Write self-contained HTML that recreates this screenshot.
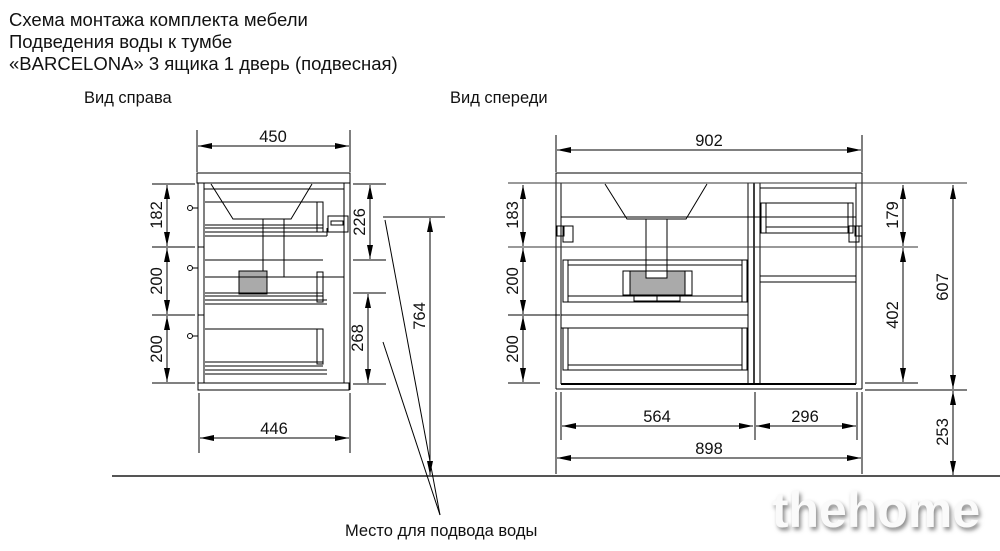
<!DOCTYPE html>
<html><head><meta charset="utf-8"><style>
html,body{margin:0;padding:0;background:#fff;}
svg{display:block;}
text{font-family:"Liberation Sans",sans-serif;fill:#111;}
</style></head><body>
<svg width="1000" height="551" viewBox="0 0 1000 551" xmlns="http://www.w3.org/2000/svg">
<defs>
<marker id="a" viewBox="0 0 14 6" refX="14" refY="3" markerWidth="14" markerHeight="6" orient="auto-start-reverse" markerUnits="userSpaceOnUse"><path d="M0,0L14,3L0,6z" fill="#000"/></marker>
<filter id="sh"><feGaussianBlur stdDeviation="2"/></filter>
</defs>
<text x="9" y="26" font-size="18.5">Схема монтажа комплекта мебели</text>
<text x="9" y="48" font-size="18.5">Подведения воды к тумбе</text>
<text x="9" y="70" font-size="18.5">«BARCELONA» 3 ящика 1 дверь (подвесная)</text>
<text x="84" y="103" font-size="16.5">Вид справа</text>
<text x="450" y="103" font-size="16.5">Вид спереди</text>

<g stroke="#000" stroke-width="1" fill="none">
<line x1="112" y1="476" x2="1000" y2="476" stroke="#555" stroke-width="2"/>

<rect x="197" y="173" width="153" height="10"/>
<rect x="198" y="383" width="151" height="7"/>
<line x1="198" y1="183" x2="198" y2="383"/><line x1="204" y1="183" x2="204" y2="383"/>
<line x1="198" y1="247" x2="204" y2="247"/><line x1="198" y1="315" x2="204" y2="315"/>
<line x1="344" y1="183" x2="344" y2="383"/><line x1="350" y1="183" x2="350" y2="390"/>
<line x1="204" y1="189" x2="344" y2="189"/>
<circle cx="190" cy="208" r="2.5"/><line x1="192" y1="208" x2="198" y2="208"/>
<circle cx="190" cy="268" r="2.5"/><line x1="192" y1="268" x2="198" y2="268"/>
<circle cx="190" cy="336" r="2.5"/><line x1="192" y1="336" x2="198" y2="336"/>
<polyline points="211,184 233,219 291,219 312,184"/>
<line x1="263" y1="219" x2="263" y2="271"/><line x1="284" y1="219" x2="284" y2="277"/>
<line x1="267" y1="277" x2="284" y2="277"/>
<rect x="239" y="271" width="28" height="23" fill="#aaa"/>
<line x1="205" y1="202" x2="323" y2="202"/><rect x="317" y="202" width="6" height="30"/>
<line x1="205" y1="225" x2="323" y2="225"/><line x1="205" y1="228" x2="323" y2="228"/><line x1="205" y1="232" x2="327" y2="232"/><line x1="205" y1="236" x2="327" y2="236"/><line x1="327" y1="228" x2="327" y2="236"/>
<line x1="205" y1="260" x2="323" y2="260"/><line x1="205" y1="277" x2="344" y2="277"/><rect x="317" y="272" width="6" height="30"/>
<line x1="205" y1="293" x2="323" y2="293"/><line x1="205" y1="296" x2="323" y2="296"/><line x1="205" y1="300" x2="327" y2="300"/><line x1="205" y1="304" x2="327" y2="304"/>
<line x1="205" y1="329" x2="323" y2="329"/><rect x="317" y="329" width="6" height="35"/>
<line x1="205" y1="362" x2="323" y2="362"/><line x1="205" y1="366" x2="323" y2="366"/><line x1="205" y1="370" x2="327" y2="370"/><line x1="205" y1="374" x2="327" y2="374"/>
<rect x="328" y="216" width="20" height="16"/><rect x="331" y="221" width="12" height="4"/>
<line x1="197" y1="130" x2="197" y2="172"/><line x1="350" y1="130" x2="350" y2="172"/>
<line x1="198" y1="146" x2="349" y2="146" marker-start="url(#a)" marker-end="url(#a)"/>
<line x1="199" y1="393" x2="199" y2="453"/><line x1="350" y1="393" x2="350" y2="453"/>
<line x1="200" y1="438" x2="349" y2="438" marker-start="url(#a)" marker-end="url(#a)"/>
<line x1="152" y1="184" x2="195" y2="184"/><line x1="152" y1="247" x2="195" y2="247"/><line x1="152" y1="315" x2="195" y2="315"/><line x1="152" y1="383" x2="195" y2="383"/>
<line x1="167" y1="185" x2="167" y2="246" marker-start="url(#a)" marker-end="url(#a)"/>
<line x1="167" y1="248" x2="167" y2="314" marker-start="url(#a)" marker-end="url(#a)"/>
<line x1="167" y1="316" x2="167" y2="382" marker-start="url(#a)" marker-end="url(#a)"/>
<line x1="353" y1="184" x2="386" y2="184"/><line x1="353" y1="260" x2="386" y2="260"/>
<line x1="370" y1="185" x2="370" y2="259" marker-start="url(#a)" marker-end="url(#a)"/>
<line x1="353" y1="293" x2="386" y2="293"/><line x1="353" y1="384" x2="386" y2="384"/>
<line x1="368" y1="294" x2="368" y2="383" marker-start="url(#a)" marker-end="url(#a)"/>
<line x1="383" y1="217" x2="445" y2="217"/>
<line x1="430" y1="218" x2="430" y2="475" marker-start="url(#a)" marker-end="url(#a)"/>
<line x1="385" y1="220" x2="440" y2="515"/><line x1="383" y1="342" x2="440" y2="515"/>

<rect x="556" y="173" width="306" height="10"/>
<line x1="556" y1="183" x2="556" y2="389"/><line x1="561" y1="183" x2="561" y2="384"/>
<line x1="856" y1="183" x2="856" y2="384"/><line x1="862" y1="183" x2="862" y2="389"/>
<line x1="556" y1="389" x2="862" y2="389"/><line x1="561" y1="384" x2="856" y2="384" stroke-width="2"/>
<line x1="748" y1="183" x2="748" y2="384"/><line x1="754" y1="183" x2="754" y2="384" stroke-width="1.5"/><line x1="760" y1="183" x2="760" y2="384"/>
<line x1="760" y1="188" x2="856" y2="188"/>
<polyline points="605,184 627,219 686,219 707,184"/>
<line x1="561" y1="217" x2="856" y2="217"/>
<line x1="646" y1="219" x2="646" y2="278"/><line x1="667" y1="219" x2="667" y2="278"/>
<rect x="623" y="271" width="69" height="24"/>
<rect x="630" y="271" width="55" height="24" fill="#aaa"/>
<rect x="646" y="271" width="21" height="7" fill="#fff"/>
<rect x="634" y="295" width="46" height="6"/><line x1="657" y1="295" x2="657" y2="301"/>
<rect x="563" y="260" width="185" height="42"/>
<rect x="563" y="260" width="5" height="42"/><rect x="742" y="260" width="5" height="42"/>
<line x1="568" y1="265" x2="742" y2="265"/><line x1="568" y1="296" x2="742" y2="296"/>
<line x1="561" y1="315" x2="748" y2="315"/><line x1="561" y1="328" x2="748" y2="328"/>
<rect x="563" y="328" width="5" height="42"/><rect x="742" y="328" width="5" height="42"/>
<line x1="568" y1="365" x2="742" y2="365"/><line x1="568" y1="370" x2="742" y2="370"/>
<rect x="761" y="203" width="92" height="30"/><rect x="761" y="203" width="5" height="30"/><rect x="848" y="203" width="5" height="30"/>
<line x1="766" y1="227" x2="848" y2="227"/>
<line x1="760" y1="276" x2="856" y2="276"/><line x1="760" y1="282" x2="856" y2="282"/>
<rect x="557" y="226" width="7" height="10"/><rect x="563" y="226" width="10" height="16"/>
<rect x="849" y="226" width="10" height="16"/><rect x="855" y="226" width="7" height="10"/>
<line x1="556" y1="135" x2="556" y2="172"/><line x1="862" y1="135" x2="862" y2="172"/>
<line x1="557" y1="150" x2="861" y2="150" marker-start="url(#a)" marker-end="url(#a)"/>
<line x1="508" y1="183" x2="967" y2="183" stroke="#333"/>
<line x1="508" y1="247" x2="918" y2="247" stroke="#333"/>
<line x1="508" y1="315" x2="560" y2="315"/><line x1="508" y1="383" x2="540" y2="383"/><line x1="865" y1="383" x2="918" y2="383"/>
<line x1="865" y1="390" x2="967" y2="390"/>
<line x1="523" y1="185" x2="523" y2="246" marker-start="url(#a)" marker-end="url(#a)"/>
<line x1="523" y1="248" x2="523" y2="314" marker-start="url(#a)" marker-end="url(#a)"/>
<line x1="523" y1="316" x2="523" y2="382" marker-start="url(#a)" marker-end="url(#a)"/>
<line x1="903" y1="185" x2="903" y2="246" marker-start="url(#a)" marker-end="url(#a)"/>
<line x1="903" y1="248" x2="903" y2="382" marker-start="url(#a)" marker-end="url(#a)"/>
<line x1="953" y1="185" x2="953" y2="389" marker-start="url(#a)" marker-end="url(#a)"/>
<line x1="953" y1="391" x2="953" y2="475" marker-start="url(#a)" marker-end="url(#a)"/>
<line x1="561" y1="392" x2="561" y2="440"/><line x1="755" y1="392" x2="755" y2="440"/><line x1="857" y1="392" x2="857" y2="440"/>
<line x1="556" y1="392" x2="556" y2="474"/><line x1="862" y1="392" x2="862" y2="474"/>
<line x1="562" y1="426" x2="753" y2="426" marker-start="url(#a)" marker-end="url(#a)"/>
<line x1="756" y1="426" x2="856" y2="426" marker-start="url(#a)" marker-end="url(#a)"/>
<line x1="557" y1="458" x2="861" y2="458" marker-start="url(#a)" marker-end="url(#a)"/>
</g>

<g font-size="16.5">
<text x="273" y="142" text-anchor="middle">450</text>
<text x="274" y="434" text-anchor="middle">446</text>
<text transform="translate(162,215) rotate(-90)" text-anchor="middle">182</text>
<text transform="translate(162,281) rotate(-90)" text-anchor="middle">200</text>
<text transform="translate(162,349) rotate(-90)" text-anchor="middle">200</text>
<text transform="translate(365,222) rotate(-90)" text-anchor="middle">226</text>
<text transform="translate(363,338) rotate(-90)" text-anchor="middle">268</text>
<text transform="translate(425,316) rotate(-90)" text-anchor="middle">764</text>
<text x="709" y="146" text-anchor="middle">902</text>
<text x="657" y="422" text-anchor="middle">564</text>
<text x="805" y="422" text-anchor="middle">296</text>
<text x="709" y="454" text-anchor="middle">898</text>
<text transform="translate(518,215) rotate(-90)" text-anchor="middle">183</text>
<text transform="translate(518,281) rotate(-90)" text-anchor="middle">200</text>
<text transform="translate(518,349) rotate(-90)" text-anchor="middle">200</text>
<text transform="translate(898,215) rotate(-90)" text-anchor="middle">179</text>
<text transform="translate(898,315) rotate(-90)" text-anchor="middle">402</text>
<text transform="translate(948,287) rotate(-90)" text-anchor="middle">607</text>
<text transform="translate(948,432) rotate(-90)" text-anchor="middle">253</text>
</g>
<text x="345" y="536" font-size="16.5">Место для подвода воды</text>
<text x="878" y="530" font-size="50" font-weight="bold" text-anchor="middle" filter="url(#sh)" style="fill:#888">thehome</text>
<text x="876" y="527" font-size="50" font-weight="bold" text-anchor="middle" style="fill:#fafafa">thehome</text>
</svg>
</body></html>
